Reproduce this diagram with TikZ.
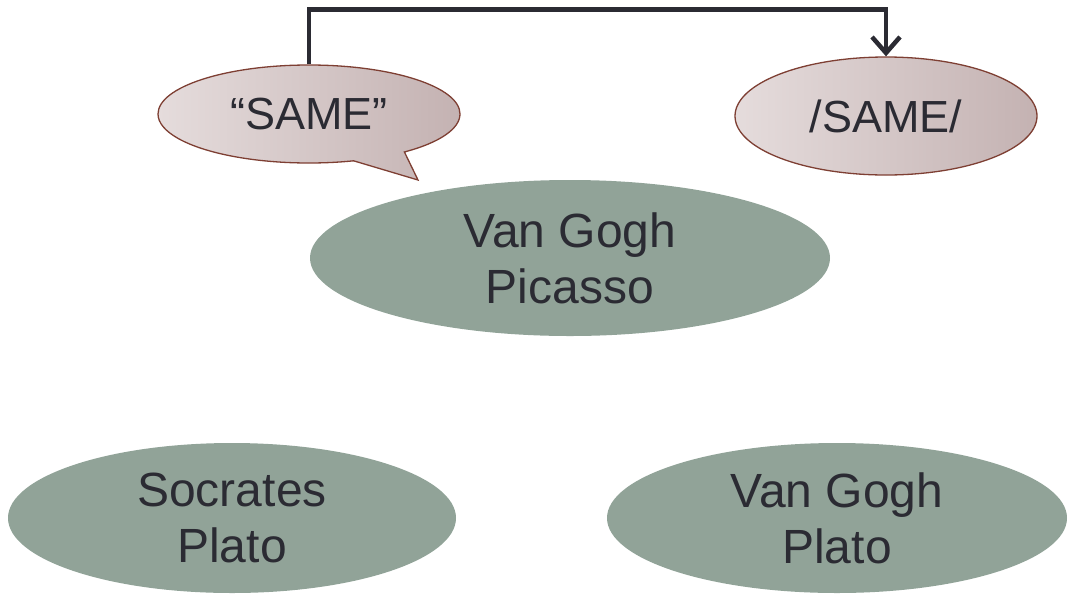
\documentclass[tikz,border=0pt]{standalone}
\usepackage{fontspec}
\setmainfont{Liberation Sans}
\usepackage{tikz}
\usetikzlibrary{shapes.geometric,shapes.callouts,arrows.meta}

\definecolor{ink}{HTML}{2B2B33}
\definecolor{sage}{HTML}{91A398}
\definecolor{rose}{HTML}{7E3F33}
\definecolor{blushL}{HTML}{E5DCDC}
\definecolor{blushR}{HTML}{C4B2B2}

\begin{document}
\begin{tikzpicture}[x=1pt, y=-1pt,
    term/.style={ellipse, fill=sage, inner sep=0pt, text=ink, align=center,
        font=\fontsize{48}{56}\selectfont},
    word/.style={inner sep=0pt, draw=rose, line width=1.3pt, text=ink,
        left color=blushL, right color=blushR, shading angle=90,
        minimum width=302, font=\fontsize{45}{50}\selectfont}]
    \useasboundingbox (0, 0) rectangle (1068, 598);

    \node[word, ellipse callout, minimum height=98,
        callout absolute pointer={(418, 180)}, callout pointer arc=22]
        (quote) at (309, 114) {``SAME''};
    \node[word, ellipse, minimum height=118] (phon) at (886, 116) {/SAME/};

    \node[term, minimum width=520, minimum height=156] (vgp) at (570, 258) {Van Gogh\\Picasso};
    \node[term, minimum width=448, minimum height=150] (sp) at (232, 518) {Socrates\\Plato};
    \node[term, minimum width=460, minimum height=150] (vgpl) at (837, 518) {Van Gogh\\Plato};

    \draw[ink, line width=4.5pt, -{Straight Barb[length=16pt, width=28pt]}]
        (quote.north) -- ++(0, -55) -| (phon.north);
\end{tikzpicture}
\end{document}
